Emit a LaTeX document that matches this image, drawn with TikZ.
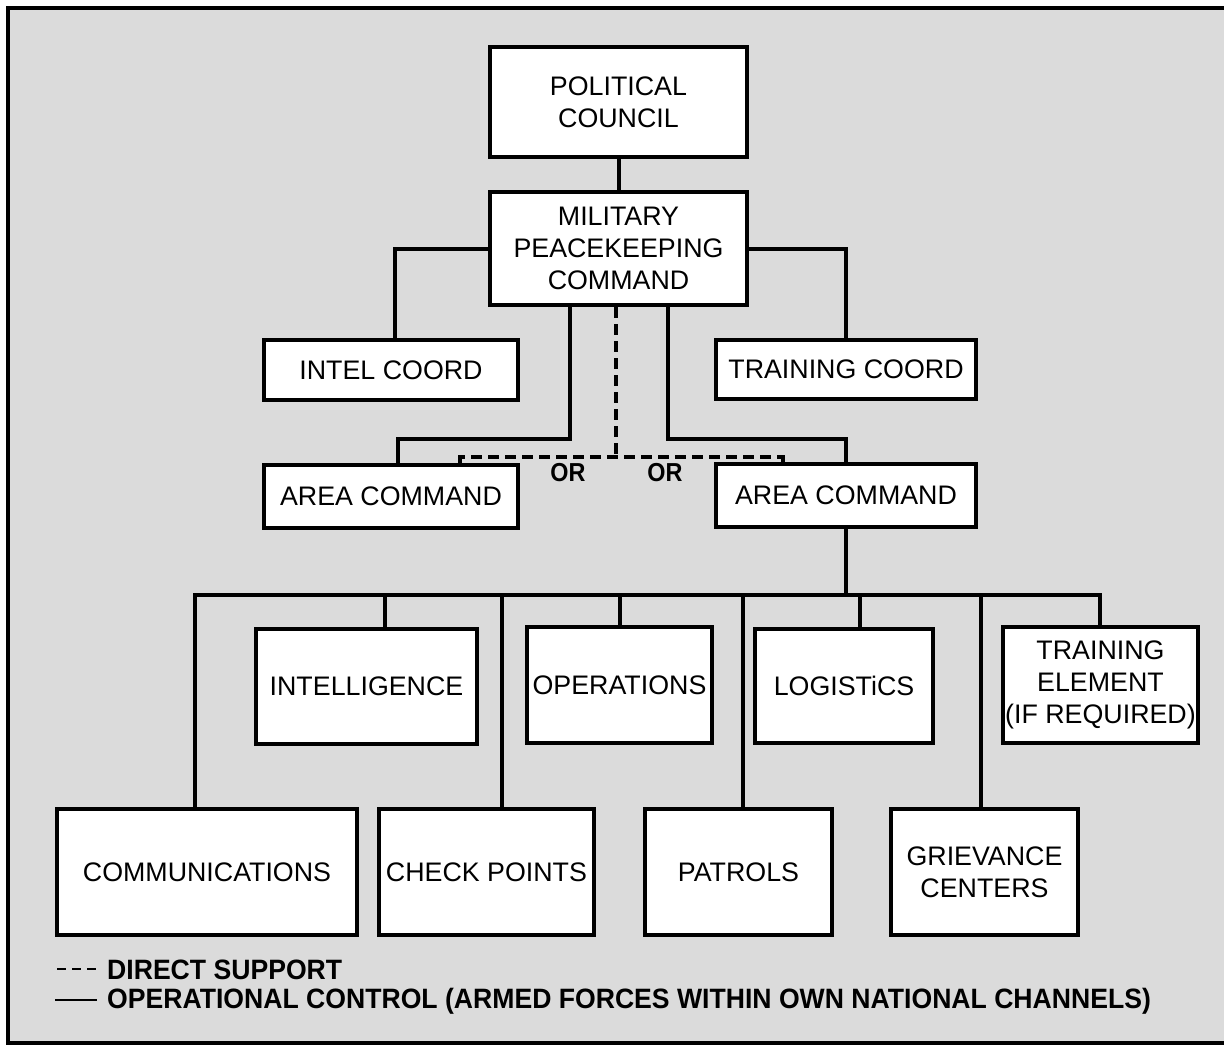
\documentclass[tikz,border=0pt]{standalone}
\usepackage{fontspec}
\setmainfont{Liberation Sans}
\usepackage{graphicx}
\usetikzlibrary{calc}
\begin{document}
\begin{tikzpicture}[x=1pt,y=-1pt,
  box/.style={draw=black,line width=4pt,fill=white,align=center,inner sep=0pt,
    font=\fontsize{26.8}{32}\selectfont},
  conn/.style={line width=4pt,line join=miter},
  dsup/.style={line width=3.4pt,dash pattern=on 11pt off 6pt},
  legend/.style={anchor=west,inner sep=0pt,font=\fontsize{28}{30}\selectfont\bfseries}
]
\useasboundingbox (0,0) rectangle (1224,1047);
\clip (0,0) rectangle (1224,1047);
\fill[black!14] (8,8) rectangle (1250,1043);
\draw[line width=4pt] (1250,8) -- (8,8) -- (8,1043) -- (1250,1043);

% boxes
\node[box,minimum width=257pt,minimum height=110pt] (pc) at (618.5,102) {POLITICAL\\COUNCIL};
\node[box,minimum width=257pt,minimum height=113pt] (mpc) at (618.5,248.5) {MILITARY\\PEACEKEEPING\\COMMAND};
\node[box,minimum width=254pt,minimum height=60pt] (intel) at (391,370) {INTEL COORD};
\node[box,minimum width=260pt,minimum height=59pt] (tcoord) at (846,369.5) {TRAINING COORD};
\node[box,minimum width=254pt,minimum height=63pt] (areaL) at (391,496.5) {AREA COMMAND};
\node[box,minimum width=260pt,minimum height=63pt] (areaR) at (846,495.5) {AREA COMMAND};
\node[box,minimum width=221pt,minimum height=115pt] (intg) at (366.5,686.5) {INTELLIGENCE};
\node[box,minimum width=185pt,minimum height=116pt] (ops) at (619.5,685) {OPERATIONS};
\node[box,minimum width=178pt,minimum height=114pt] (log) at (844,686) {LOGISTiCS};
\node[box,minimum width=195pt,minimum height=116pt] (tel) at (1100.5,685) {TRAINING\\ELEMENT\\(IF REQUIRED)};
\node[box,minimum width=300pt,minimum height=126pt] (comm) at (207,872) {COMMUNICATIONS};
\node[box,minimum width=215pt,minimum height=126pt] (chk) at (486.5,872) {CHECK POINTS};
\node[box,minimum width=187pt,minimum height=126pt] (pat) at (738.5,872) {PATROLS};
\node[box,minimum width=187pt,minimum height=126pt] (grv) at (984.5,872) {GRIEVANCE\\CENTERS};

% upper connectors
\draw[conn] (pc.south) -- (mpc.north);
\draw[conn] (mpc.west) -| ([xshift=4pt]intel.north);
\draw[conn] (mpc.east) -| (tcoord.north);
\coordinate (j1) at (570,439);
\coordinate (j2) at (668,439);
\draw[conn] (j1 |- mpc.south) -- (j1) -| ([xshift=7pt]areaL.north);
\draw[conn] (j2 |- mpc.south) -- (j2) -| (areaR.north);

% direct support (dashed)
\coordinate (d1) at (616,457);
\coordinate (dl) at (460,457);
\coordinate (dr) at (783,457);
\draw[dsup] (d1 |- mpc.south) -- (d1);
\draw[dsup] (dl |- areaL.north) -- (dl) -- (dr) -- (dr |- areaR.north);

\node[inner sep=0pt,font=\fontsize{26}{28}\selectfont\bfseries] (or1) at (568,473) {\scalebox{0.9}[1]{OR}};
\node[inner sep=0pt,font=\fontsize{26}{28}\selectfont\bfseries] (or2) at (665,473) {\scalebox{0.9}[1]{OR}};

% lower bus
\coordinate (bus) at (845,595);
\coordinate (bl) at (195,595);
\coordinate (br) at (1100,595);
\draw[conn] (areaR.south) -- (areaR.south |- bus);
\draw[conn] (bl |- comm.north) -- (bl) -- (br) -- (br |- tel.north);
\coordinate (b1) at (385,595);
\coordinate (b2) at (502,595);
\coordinate (b3) at (620,595);
\coordinate (b4) at (743,595);
\coordinate (b5) at (860,595);
\coordinate (b6) at (981,595);
\draw[conn] (b1) -- (b1 |- intg.north);
\draw[conn] (b2) -- (b2 |- chk.north);
\draw[conn] (b3) -- (b3 |- ops.north);
\draw[conn] (b4) -- (b4 |- pat.north);
\draw[conn] (b5) -- (b5 |- log.north);
\draw[conn] (b6) -- (b6 |- grv.north);

% legend
\coordinate (ls1) at (57,969);
\coordinate (le1) at (96,969);
\coordinate (ls2) at (55,1000);
\coordinate (le2) at (97,1000);
\draw[line width=2.8pt,dash pattern=on 9pt off 6pt] (ls1) -- (le1);
\draw[line width=2.8pt] (ls2) -- (le2);
\node[legend] (lg1) at (107,970) {\scalebox{0.95}[1]{DIRECT SUPPORT}};
\node[legend] (lg2) at (107,1001) {\scalebox{0.95}[1]{OPERATIONAL CONTROL (ARMED FORCES WITHIN OWN NATIONAL CHANNELS)}};
\end{tikzpicture}
\end{document}
